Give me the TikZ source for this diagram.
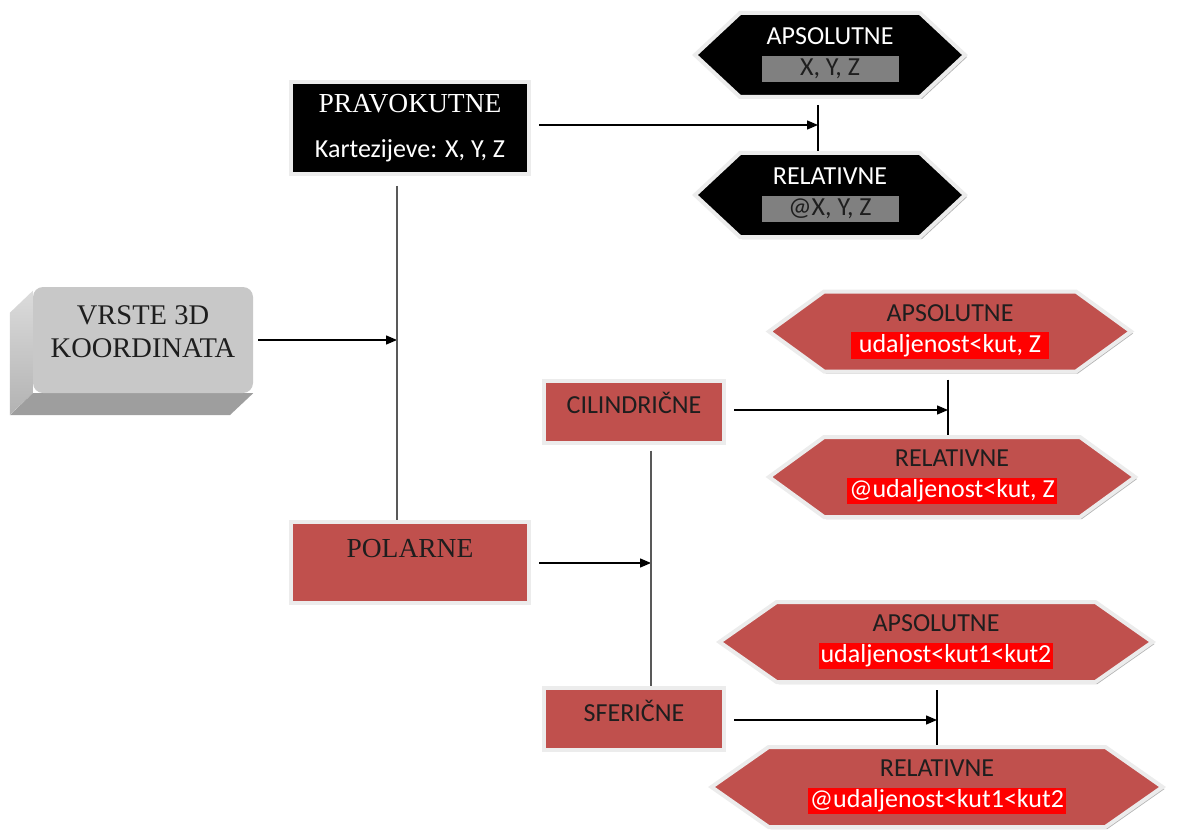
\documentclass[tikz,border=0pt]{standalone}
\usepackage{fontspec}
\setmainfont{Liberation Serif}
\newfontfamily\carlito{Carlito}
\usetikzlibrary{shapes.symbols,arrows.meta,shadows,backgrounds}

\definecolor{boxred}{HTML}{C0504D}
\definecolor{edgegray}{HTML}{ECECEC}
\definecolor{facegray}{HTML}{C8C8C8}
\definecolor{textgray}{HTML}{1E1E1E}
\definecolor{barred}{HTML}{FF0000}

\newcommand\hilite[1]{{\setlength\fboxsep{2pt}\colorbox{barred}{\textcolor{white}{#1}}}}
\newcommand\graybar[1]{{\setlength\fboxsep{3pt}\colorbox{gray}{\makebox[131pt]{\textcolor{textgray}{#1}}}}}

\begin{document}
\begin{tikzpicture}[x=1pt, y=-1pt,
	shadowed/.style={drop shadow={shadow xshift=2pt, shadow yshift=-2pt, fill=black, opacity=.3}},
	redbox/.style={shadowed, draw=edgegray, line width=4pt, fill=boxred, text=textgray, font=\carlito\fontsize{26}{31}\selectfont, minimum width=180, inner ysep=0, text height=33pt, text depth=29pt},
	bigred/.style={redbox, font=\fontsize{27.5}{32}\selectfont, minimum width=238, text height=35pt, text depth=46pt},
	blackbox/.style={shadowed, draw=edgegray, line width=4pt, fill=black, text=white, align=center, font=\fontsize{27.5}{31}\selectfont, minimum width=238, minimum height=92},
	redhex/.style={shadowed, signal, signal to=west and east, signal pointer angle=72, draw=edgegray, line width=4pt, fill=boxred, text=textgray, align=center, font=\carlito\fontsize{26}{31}\selectfont, minimum height=80},
	blackhex/.style={redhex, fill=black, text=white, signal pointer angle=86, minimum height=84, minimum width=270},
	arr/.style={-{Triangle[length=11pt, width=9pt]}, line width=1.3pt, shorten <=8pt},
	trunkline/.style={draw=black!65, line width=1.8pt},
	tick/.style={line width=1.3pt, shorten <=6pt}]

	\useasboundingbox (0,0) rectangle (1177,837);

	% start box
	\node[fill=facegray, rounded corners=10pt, minimum width=220, minimum height=106, align=center, text=textgray, font=\fontsize{28.5}{33}\selectfont] (vrste) at (143,340) {VRSTE 3D\\KOORDINATA\rule[-17pt]{0pt}{17pt}};
	\begin{pgfonlayer}{background}
		\shade[top color=black!14, bottom color=black!30] ([yshift=-4pt]vrste.north west) -- ++(-23,22) -- ++(0,102) -- (vrste.south west) -- cycle;
		\fill[black!38] (vrste.south west) -- ++(-23,22) -- ++(220,0) -- (vrste.south east) -- cycle;
	\end{pgfonlayer}

	% main branches
	\node[blackbox] (prav) at (410,128) {PRAVOKUTNE\\[14pt]{\carlito\fontsize{26}{31}\selectfont Kartezijeve: X, Y, Z}};
	\node[bigred] (pol) at (410,562.5) {POLARNE};

	\node[blackhex] (abs1) at (830,55) {APSOLUTNE\\\graybar{X, Y, Z}};
	\node[blackhex] (rel1) at (830,195) {RELATIVNE\\\graybar{@X, Y, Z}};

	\node[redbox] (cil) at (634,411.5) {CILINDRIČNE};
	\node[redbox] (sfer) at (634,719) {SFERIČNE};

	\node[redhex, minimum width=362] (abs2) at (950,331.5) {APSOLUTNE\\\hilite{\ udaljenost<kut, Z\ }};
	\node[redhex, minimum width=366] (rel2) at (952,477) {RELATIVNE\\\hilite{@udaljenost<kut, Z}};
	\node[redhex, minimum width=433, signal pointer angle=70] (abs3) at (936,642) {APSOLUTNE\\\hilite{udaljenost<kut1<kut2}};
	\node[redhex, minimum width=451, signal pointer angle=70] (rel3) at (937,787) {RELATIVNE\\\hilite{@udaljenost<kut1<kut2}};

	% junctions
	\coordinate (trunk) at (397,340);
	\coordinate (jprav) at (818,125);
	\coordinate (jpol) at (651,563);
	\coordinate (jcil) at (948,410);
	\coordinate (jsfer) at (937,720);

	\draw[arr, shorten <=5pt] (vrste.east) -- (trunk);
	\draw[trunkline, shorten <=10pt] (prav.south -| trunk) -- (pol.north -| trunk);

	\draw[arr] (prav.east |- jprav) -- (jprav);
	\draw[tick] (abs1.south -| jprav) -- (rel1.north -| jprav);

	\draw[arr] (pol.east |- jpol) -- (jpol);
	\draw[trunkline, shorten <=6pt] (cil.south -| jpol) -- (sfer.north -| jpol);

	\draw[arr] (cil.east |- jcil) -- (jcil);
	\draw[tick] (abs2.south -| jcil) -- (rel2.north -| jcil);

	\draw[arr] (sfer.east |- jsfer) -- (jsfer);
	\draw[tick] (abs3.south -| jsfer) -- (rel3.north -| jsfer);
\end{tikzpicture}
\end{document}
